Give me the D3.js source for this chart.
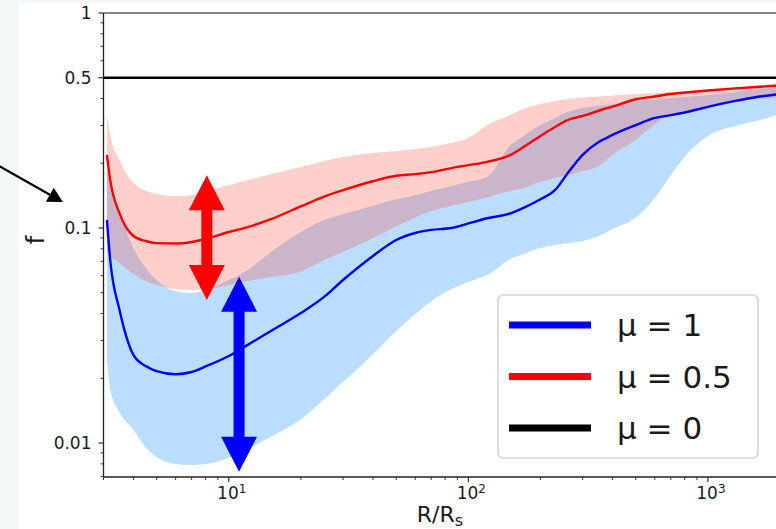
<!DOCTYPE html>
<html><head><meta charset="utf-8">
<script src="https://cdn.jsdelivr.net/npm/d3@7"></script>
<style>
html,body{margin:0;padding:0;background:#f4f8f6;}
svg{display:block;font-family:"DejaVu Sans",sans-serif;}
</style></head>
<body><svg id="c" width="776" height="529"></svg>
<script>
// ---- data ----
const radius = [3.1,3.2,3.5,4,4.5,5,6,7,8,10,12,15,20,25,30,40,50,60,70,85,100,120,150,170,200,230,260,300,350,400,500,600,700,850,1000,1300,1600,2000];
const fMu1 = [0.109,0.071,0.0416,0.0257,0.0228,0.0216,0.0209,0.0214,0.0227,0.0254,0.0286,0.0332,0.0402,0.0478,0.0573,0.0741,0.0879,0.0948,0.098,0.100,0.105,0.111,0.117,0.124,0.136,0.150,0.180,0.219,0.251,0.271,0.301,0.325,0.335,0.350,0.366,0.390,0.407,0.420];
const fMu1Upper = [0.196,0.158,0.119,0.0807,0.0652,0.0573,0.0509,0.0499,0.0515,0.0573,0.0638,0.0773,0.0958,0.109,0.116,0.127,0.136,0.142,0.149,0.157,0.164,0.173,0.243,0.268,0.301,0.325,0.346,0.362,0.369,0.377,0.390,0.396,0.402,0.409,0.416,0.429,0.441,0.453];
const fMu1Lower = [0.0243,0.0177,0.0139,0.0115,0.00957,0.00861,0.00798,0.0079,0.00798,0.00851,0.00938,0.0107,0.0129,0.016,0.0192,0.0259,0.0332,0.0398,0.0457,0.052,0.0561,0.0604,0.0718,0.0757,0.0807,0.0834,0.0851,0.0871,0.0918,0.0989,0.112,0.138,0.176,0.231,0.268,0.298,0.315,0.339];
const fMu05 = [0.219,0.167,0.117,0.0918,0.087,0.0851,0.0847,0.0861,0.0889,0.0958,0.101,0.110,0.126,0.140,0.150,0.165,0.175,0.178,0.182,0.190,0.196,0.203,0.219,0.238,0.268,0.295,0.318,0.332,0.351,0.367,0.397,0.409,0.420,0.429,0.436,0.446,0.453,0.460];
const fMu05Upper = [0.336,0.271,0.207,0.162,0.149,0.144,0.141,0.142,0.149,0.158,0.167,0.178,0.192,0.205,0.214,0.223,0.228,0.233,0.238,0.249,0.262,0.301,0.336,0.358,0.377,0.390,0.398,0.405,0.409,0.413,0.420,0.425,0.429,0.434,0.438,0.448,0.460,0.473];
const fMu05Lower = [0.079,0.0749,0.0687,0.0611,0.0567,0.0543,0.052,0.0515,0.0517,0.0543,0.0567,0.0592,0.0628,0.071,0.0773,0.0898,0.102,0.112,0.120,0.127,0.132,0.139,0.149,0.153,0.164,0.171,0.176,0.184,0.194,0.219,0.257,0.305,0.336,0.355,0.370,0.385,0.398,0.405];
const fMu0 = 0.5;
const xMajorTicks = [10,100,1000];
const xMinorTicks = [3,4,5,6,7,8,9,20,30,40,50,60,70,80,90,200,300,400,500,600,700,800,900,2000];
const yMajorTicks = [1,0.5,0.1,0.01];
const yTickLabels = ["1","0.5","0.1","0.01"];
const yMinorTicks = [0.007,0.008,0.009,0.02,0.03,0.04,0.05,0.06,0.07,0.08,0.09,0.2,0.3,0.4,0.6,0.7,0.8,0.9];
const legendLabels = ["μ = 1","μ = 0.5","μ = 0"];
const legendColors = ["#0000ff","#ff0000","#000000"];
// annotation arrows (data coords)
const redArrow = {r:8.1, f0:0.0463, f1:0.176};
const blueArrow = {r:11.04, f0:0.00736, f1:0.0594};
const pointer = {r0:1.122, f0:0.192, r1:2.03, f1:0.132};

// ---- layout ----
const svg = d3.select("#c");
const L=103.5, R=780, T=13, B=477;
const x = d3.scaleLog().domain([3,2000]).range([L,R]);
const y = d3.scaleLog().domain([0.00695,1]).range([B,T]);

svg.append("rect").attr("x",18).attr("y",3).attr("width",776).attr("height",529).attr("fill","#fff");

svg.append("defs").append("clipPath").attr("id","clip").append("rect")
  .attr("x",L).attr("y",T).attr("width",R-L).attr("height",B-T);
const g = svg.append("g").attr("clip-path","url(#clip)");

const idx = d3.range(radius.length);
const area = (lo,hi)=>d3.area().curve(d3.curveMonotoneX).x(i=>x(radius[i])).y0(i=>y(lo[i])).y1(i=>y(hi[i]));
g.append("path").attr("d",area(fMu1Lower,fMu1Upper)(idx)).attr("fill","rgb(30,144,255)").attr("fill-opacity",0.3);
g.append("path").attr("d",area(fMu05Lower,fMu05Upper)(idx)).attr("fill","rgb(255,40,20)").attr("fill-opacity",0.22);

const line = arr=>d3.line().curve(d3.curveMonotoneX).x(i=>x(radius[i])).y(i=>y(arr[i]));
g.append("path").attr("d",line(fMu05)(idx)).attr("fill","none").attr("stroke","#ff0000").attr("stroke-width",2.4);
g.append("path").attr("d",line(fMu1)(idx)).attr("fill","none").attr("stroke","#0000ff").attr("stroke-width",2.4);
g.append("line").attr("x1",L).attr("x2",R).attr("y1",y(fMu0)).attr("y2",y(fMu0)).attr("stroke","#000").attr("stroke-width",2.6);

// double arrows
function dblArrow(a,color){
  const cx=x(a.r), yt=y(a.f1), yb=y(a.f0), hw=18, hl=35, sw=5.5;
  const p=[[cx,yt],[cx+hw,yt+hl],[cx+sw,yt+hl],[cx+sw,yb-hl],[cx+hw,yb-hl],[cx,yb],[cx-hw,yb-hl],[cx-sw,yb-hl],[cx-sw,yt+hl],[cx-hw,yt+hl]];
  svg.append("polygon").attr("points",p.map(d=>d.join(",")).join(" ")).attr("fill",color);
}
dblArrow(redArrow,"#ff0000");
dblArrow(blueArrow,"#0000ff");

// pointer arrow
{
  const x0=x(pointer.r0), y0=y(pointer.f0), x1=x(pointer.r1), y1=y(pointer.f1);
  const ang=Math.atan2(y1-y0,x1-x0), hl=15, hw=8;
  const bx=x1-hl*Math.cos(ang), by=y1-hl*Math.sin(ang);
  svg.append("line").attr("x1",x0-20*Math.cos(ang)).attr("y1",y0-20*Math.sin(ang)).attr("x2",bx).attr("y2",by).attr("stroke","#000").attr("stroke-width",2.2);
  const p=[[x1,y1],[bx+hw*Math.sin(ang),by-hw*Math.cos(ang)],[bx-hw*Math.sin(ang),by+hw*Math.cos(ang)]];
  svg.append("polygon").attr("points",p.map(d=>d.join(",")).join(" ")).attr("fill","#000");
}

// axes
const ax = svg.append("g").attr("stroke","#222").attr("fill","none");
ax.append("line").attr("x1",L).attr("x2",R).attr("y1",B).attr("y2",B).attr("stroke-width",1.3);
ax.append("line").attr("x1",L).attr("x2",L).attr("y1",T).attr("y2",B).attr("stroke-width",1.3);
ax.append("line").attr("x1",L).attr("x2",R).attr("y1",T).attr("y2",T).attr("stroke","#111").attr("stroke-width",1.2);

xMajorTicks.forEach(v=>ax.append("line").attr("x1",x(v)).attr("x2",x(v)).attr("y1",B).attr("y2",B+5).attr("stroke-width",1.1));
xMinorTicks.forEach(v=>ax.append("line").attr("x1",x(v)).attr("x2",x(v)).attr("y1",B).attr("y2",B+3).attr("stroke-width",0.9));
yMajorTicks.forEach(v=>ax.append("line").attr("x1",L-5).attr("x2",L).attr("y1",y(v)).attr("y2",y(v)).attr("stroke-width",1.1));
yMinorTicks.forEach(v=>ax.append("line").attr("x1",L-3).attr("x2",L).attr("y1",y(v)).attr("y2",y(v)).attr("stroke-width",0.9));

const tx = svg.append("g").attr("fill","#1a1a1a").style("font-size","17px");
yMajorTicks.forEach((v,i)=>tx.append("text").attr("x",L-12).attr("y",y(v)).attr("dy","0.36em").attr("text-anchor","end").text(yTickLabels[i]));
xMajorTicks.forEach(v=>{
  const t=tx.append("text").attr("x",x(v)+3).attr("y",B+22).attr("text-anchor","middle");
  t.append("tspan").text("10");
  t.append("tspan").attr("dy",-6).style("font-size","12px").text(Math.round(Math.log10(v)));
});
// axis titles
const xl=svg.append("text").attr("x",440).attr("y",522).attr("text-anchor","middle").style("font-size","22px").attr("fill","#1a1a1a");
xl.append("tspan").text("R/R");
xl.append("tspan").attr("dy",4).style("font-size","16px").text("s");
svg.append("text").attr("transform","translate(44,240) rotate(-90)").attr("text-anchor","middle").style("font-size","24px").attr("fill","#1a1a1a").text("f");

// legend
const lg = svg.append("g");
lg.append("rect").attr("x",498).attr("y",295).attr("width",260).attr("height",163).attr("rx",5)
  .attr("fill","#fff").attr("stroke","#d4d4d4").attr("stroke-width",1.6);
legendLabels.forEach((lab,i)=>{
  const yy=325+i*51.5;
  lg.append("line").attr("x1",509).attr("x2",591).attr("y1",yy).attr("y2",yy).attr("stroke",legendColors[i]).attr("stroke-width",7);
  lg.append("text").attr("x",617).attr("y",yy+11).style("font-size","31px").attr("fill","#1a1a1a").text(lab);
});
</script></body></html>
